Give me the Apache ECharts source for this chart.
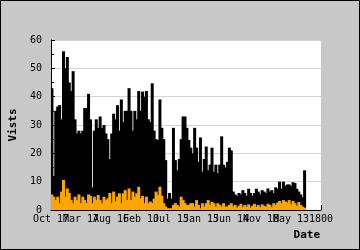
<!DOCTYPE html>
<html>
<head>
<meta charset="utf-8">
<script src="https://cdn.jsdelivr.net/npm/echarts@6/dist/echarts.min.js"></script>
<style>
html,body{margin:0;padding:0;background:#c8c8c8;}
#c{width:360px;height:250px;}
</style>
</head>
<body>
<div id="c"></div>
<script>
// Tick labels along the date axis
var tickLabels = ['Oct 17','Mar 17','Aug 16','Feb 10','Jul 15','Jan 15','Jun 14','Nov 18','May 13','1800'];
// Total visits (black bars)
var visits = [43,12,35,36.5,37,32,56,50,54,45,42,49,32,27,28,27,28,36,36,41,32,8,28,32,29,33,29,30,27,25,
  18,27,34,32,37,28,39,31,35,35,43,35,28,35,32,42,35,41.8,40,42,32,31,44.7,28,25,24.7,39,29,25,17.6,
  4,6,4,29,17.6,14,18,25,33,33,29,24.7,22,20,29,22,17,25.6,13.5,18,22.4,14,16,22,13.5,16,13,16,26,16,
  15,17,22,21,6.5,5.5,5,6,5.5,7,6,5,7.5,6,5,6,7.5,6.5,5.5,7,6.5,6,7.6,6.5,7,6,8,7.5,10,7.5,
  10,8.5,9,9,8.5,9.8,9.5,7.5,6.5,5.5,4.5,14];
// Unique visits (orange bars)
var uniqueVisits = [5.5,4.7,3.5,4.7,2.4,6.5,10.6,4.7,7.6,6,3.5,2.4,4.7,3.5,5.5,2.4,4.7,3.5,2.4,5.5,5,2.4,4.7,3.5,5.3,3.5,2.4,4.7,3.5,4.1,
  6,2.4,6.5,3,4.7,5.9,2.4,5.9,7,3.5,7.6,3.5,6.5,4.7,5.9,8.2,4.1,5,2.4,4.7,2.4,3,2.4,4,6.5,5.3,8.2,5,2.4,1.2,
  0.6,0.6,0.6,1.8,2.4,1.8,1.2,4.7,3.5,2.4,1.8,1.8,2.4,2.4,1.2,3.5,1.8,0.6,2.4,1.2,2.4,3.5,1.8,2.9,2.4,1.2,2.4,1.8,1.2,2.4,
  1.2,1.2,1.8,2.4,1.2,1.8,0.8,1.5,2.2,1.0,1.8,1.2,2.0,0.8,1.5,2.2,1.2,1.8,1.0,2.0,1.5,1.2,2.2,1.8,1.0,2.4,1.8,2.6,3.2,2.4,
  3.5,3.0,2.6,3.5,2.0,3.2,2.4,1.5,2.8,1.8,1.2,0.8];
var slotCount = 140;
var slots = [];
for (var i = 0; i < slotCount; i++) slots.push(i);

var mono = 'DejaVu Sans Mono';
function labelAxis(parity, main) {
  return {
    type: 'value', min: 0, max: tickLabels.length - 1, interval: 1, position: 'bottom', offset: 0,
    name: main ? 'Date' : '', nameLocation: 'end', nameGap: -1,
    nameTextStyle: {fontFamily: mono, fontWeight: 'bold', fontSize: 11, color: '#000', align: 'right', verticalAlign: 'top', padding: [20,0,0,0]},
    axisLine: {show: main, lineStyle: {color: '#000', width: 1}},
    axisTick: {show: main, inside: true, length: 5, lineStyle: {color: '#000'}},
    axisLabel: {fontFamily: mono, fontSize: 10, color: '#000', margin: 4, hideOverlap: false,
      showMinLabel: true, showMaxLabel: true,
      formatter: function (v) { var k = Math.round(v); return (k % 2 === parity) ? tickLabels[k] : ''; }},
    splitLine: {show: false}
  };
}
var chart = echarts.init(document.getElementById('c'), null, {renderer:'canvas'});
chart.setOption({
  animation: false,
  backgroundColor: '#c8c8c8',
  grid: {left: 41, top: 40, right: 39, bottom: 40, show: true, backgroundColor: '#ffffff', borderWidth: 0},
  xAxis: [
    {type: 'category', data: slots, show: false, boundaryGap: true},
    labelAxis(0, true),
    labelAxis(1, false)
  ],
  yAxis: {
    type: 'value', min: 0, max: 60, interval: 10,
    name: 'Vists', nameLocation: 'middle', nameGap: 28, nameRotate: 90,
    nameTextStyle: {fontFamily: mono, fontWeight: 'bold', fontSize: 11, color: '#000'},
    axisLine: {show: true, lineStyle: {color: '#000', width: 1}},
    axisTick: {show: true, inside: true, length: 4, lineStyle: {color: '#000'}},
    minorTick: {show: true, splitNumber: 2, length: 3, lineStyle: {color: '#000'}},
    axisLabel: {fontFamily: mono, fontSize: 10, color: '#000', margin: 9, showMinLabel: true, showMaxLabel: true},
    splitLine: {show: true, lineStyle: {color: '#d4d4d4', width: 1}}
  },
  graphic: [{type: 'rect', z: 100, shape: {x: 0.5, y: 0.5, width: 359, height: 249}, style: {fill: null, stroke: '#000', lineWidth: 1}}],
  series: [
    {type: 'bar', xAxisIndex: 0, data: visits, barWidth: 3, barGap: '-100%', itemStyle: {color: '#000000'}},
    {type: 'bar', xAxisIndex: 0, data: uniqueVisits, barWidth: 3, barGap: '-100%', itemStyle: {color: '#ffa500'}}
  ]
});
</script>
</body>
</html>
